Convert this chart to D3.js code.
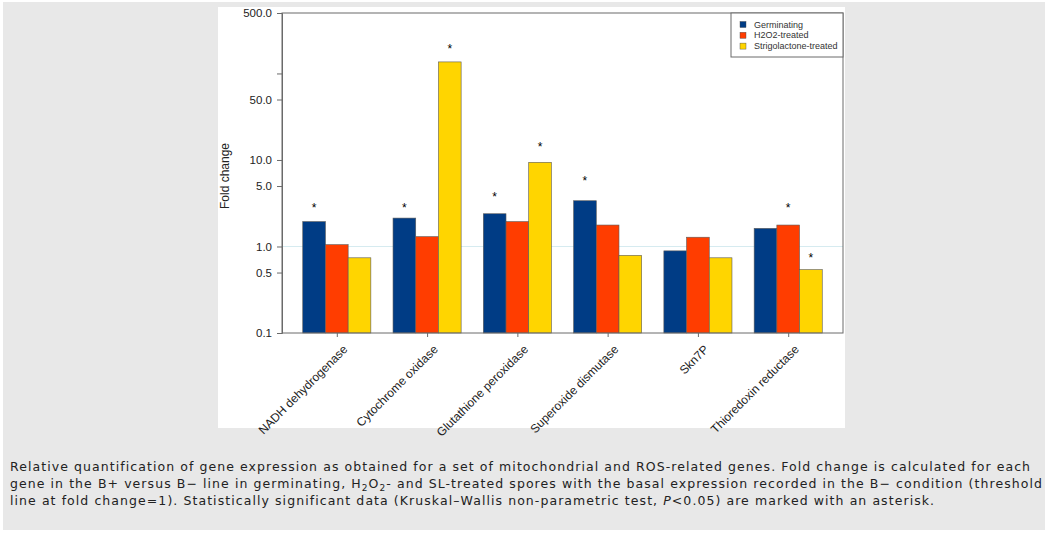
<!DOCTYPE html>
<html>
<head>
<meta charset="utf-8">
<script src="https://cdn.jsdelivr.net/npm/d3@7"></script>
<style>
  body { margin: 0; background: #fff; }
  svg { display: block; }
</style>
</head>
<body>
<div id="chart"></div>
<script>
// gene groups and fold changes (B+ vs B-)
const genes = ['NADH dehydrogenase', 'Cytochrome oxidase', 'Glutathione peroxidase',
  'Superoxide dismutase', 'Skn7P', 'Thioredoxin reductase'];
const seriesNames = ['Germinating', 'H2O2-treated', 'Strigolactone-treated'];
const germinating = [1.94, 2.13, 2.39, 3.38, 0.89, 1.62];
const h2o2Treated = [1.05, 1.30, 1.94, 1.77, 1.28, 1.77];
const slTreated = [0.74, 136, 9.4, 0.79, 0.74, 0.54];
// asterisk levels (fold change scale), null = not significant
const starsGerm = [2.94, 2.94, 3.94, 6.0, null, null];
const starsH2o2 = [null, null, null, null, null, 2.94];
const starsSl = [null, 201, 14.9, null, null, 0.78];
const yTicks = [0.1, 0.5, 1, 5, 10, 50, 100, 500];
const yTickLabels = ['0.1', '0.5', '1.0', '5.0', '10.0', '50.0', '', '500.0'];
const threshold = 1;
const colors = ['#003c85', '#ff3d00', '#ffd500'];

// caption: | marks subscripts, ~ marks italics
const caption = [
  'Relative quantification of gene expression as obtained for a set of mitochondrial and ROS-related genes. Fold change is calculated for each',
  'gene in the B+ versus B\u2212 line in germinating, H|2|O|2|- and SL-treated spores with the basal expression recorded in the B\u2212 condition (threshold',
  'line at fold change=1). Statistically significant data (Kruskal\u2013Wallis non-parametric test, ~P~<0.05) are marked with an asterisk.'
];

const W = 1048, H = 535;
const svg = d3.select('#chart').append('svg').attr('width', W).attr('height', H);

// page panels
svg.append('rect').attr('x', 3).attr('y', 2).attr('width', 1042).attr('height', 528).attr('fill', '#e8e8e8');
svg.append('rect').attr('x', 218).attr('y', 7).attr('width', 627).attr('height', 421).attr('fill', '#fff');

const plot = { left: 282, top: 13, right: 843, bottom: 333 };
const g = svg.append('g');

const x = d3.scalePoint().domain(genes).range([plot.left, plot.right]).padding(0.607);
const y = d3.scaleLog().domain([0.1, 500]).range([plot.bottom, plot.top]);
const barW = 22.7;
const sub = d3.scaleBand().domain(seriesNames).range([-barW * 1.5, barW * 1.5]);

// threshold line
g.append('line')
  .attr('x1', plot.left).attr('x2', plot.right)
  .attr('y1', y(threshold)).attr('y2', y(threshold))
  .attr('stroke', '#d6ebf0').attr('stroke-width', 1.2);

const series = [germinating, h2o2Treated, slTreated];
const stars = [starsGerm, starsH2o2, starsSl];

series.forEach((vals, si) => {
  g.selectAll('.bar' + si)
    .data(vals)
    .enter().append('rect')
    .attr('class', 'bar' + si)
    .attr('x', (d, i) => x(genes[i]) + sub(seriesNames[si]))
    .attr('y', d => y(d))
    .attr('width', sub.bandwidth())
    .attr('height', d => y(0.1) - y(d))
    .attr('fill', colors[si])
    .attr('stroke', '#5a5a5a')
    .attr('stroke-width', 0.6);

  g.selectAll('.star' + si)
    .data(stars[si].map((s, i) => ({ s, i })).filter(d => d.s != null))
    .enter().append('text')
    .attr('x', d => x(genes[d.i]) + sub(seriesNames[si]) + sub.bandwidth() / 2)
    .attr('y', d => y(d.s) + 6)
    .attr('text-anchor', 'middle')
    .style('font', '12px "Liberation Sans", Arial, sans-serif')
    .attr('fill', '#000')
    .text('*');
});

// frame
g.append('rect')
  .attr('x', plot.left).attr('y', plot.top)
  .attr('width', plot.right - plot.left).attr('height', plot.bottom - plot.top)
  .attr('fill', 'none').attr('stroke', '#6a6a6a').attr('stroke-width', 1);

// y axis
const yAxis = g.append('g')
  .attr('transform', `translate(${plot.left},0)`)
  .call(d3.axisLeft(y).tickValues(yTicks).tickSize(5).tickPadding(5)
    .tickFormat((d, i) => yTickLabels[i]));
yAxis.select('.domain').attr('stroke', '#6a6a6a');
yAxis.selectAll('.tick line').attr('stroke', '#6a6a6a');
yAxis.selectAll('.tick text')
  .style('font', '11.5px "Liberation Sans", Arial, sans-serif').attr('fill', '#222');

// x axis
const xAxis = g.append('g')
  .attr('transform', `translate(0,${plot.bottom})`)
  .call(d3.axisBottom(x).tickSize(4).tickPadding(6));
xAxis.select('.domain').remove();
xAxis.selectAll('.tick line').attr('stroke', '#6a6a6a');
xAxis.selectAll('.tick text')
  .style('font', '12px "Liberation Sans", Arial, sans-serif').attr('fill', '#222')
  .attr('text-anchor', 'end')
  .attr('dy', '0.35em')
  .attr('transform', 'translate(1,7) rotate(-45)');

// y title
svg.append('text')
  .attr('transform', `translate(229,176) rotate(-90)`)
  .attr('text-anchor', 'middle')
  .style('font', '12px "Liberation Sans", Arial, sans-serif').attr('fill', '#222')
  .text('Fold change');

// legend
const lg = svg.append('g');
lg.append('rect').attr('x', 731).attr('y', plot.top).attr('width', plot.right - 731).attr('height', 44)
  .attr('fill', '#fff').attr('stroke', '#6a6a6a').attr('stroke-width', 1);
seriesNames.forEach((name, i) => {
  const cy = 24.5 + i * 10.8;
  lg.append('rect').attr('x', 740).attr('y', cy - 3).attr('width', 6).attr('height', 6)
    .attr('fill', colors[i]).attr('stroke', '#444').attr('stroke-width', 0.4);
  lg.append('text').attr('x', 754).attr('y', cy + 3)
    .style('font', '9px "Liberation Sans", Arial, sans-serif').attr('fill', '#333')
    .text(name);
});

const cap = svg.append('g');
caption.forEach((line, li) => {
  const t = cap.append('text').attr('x', 10).attr('y', 471 + li * 17)
    .style('font', '12.5px "DejaVu Sans", Verdana, sans-serif')
    .style('letter-spacing', '1.07px')
    .attr('fill', '#222');
  let isSub = false, isItal = false;
  line.split(/([|~])/).forEach(part => {
    if (part === '|') { isSub = !isSub; return; }
    if (part === '~') { isItal = !isItal; return; }
    if (!part) return;
    const ts = t.append('tspan').text(part);
    if (isSub) ts.attr('dy', 3).style('font-size', '9px');
    else if (ts.node().previousSibling && ts.node().previousSibling.getAttribute('dy') === '3') ts.attr('dy', -3);
    if (isItal) ts.style('font-style', 'italic');
  });
});
</script>
</body>
</html>
